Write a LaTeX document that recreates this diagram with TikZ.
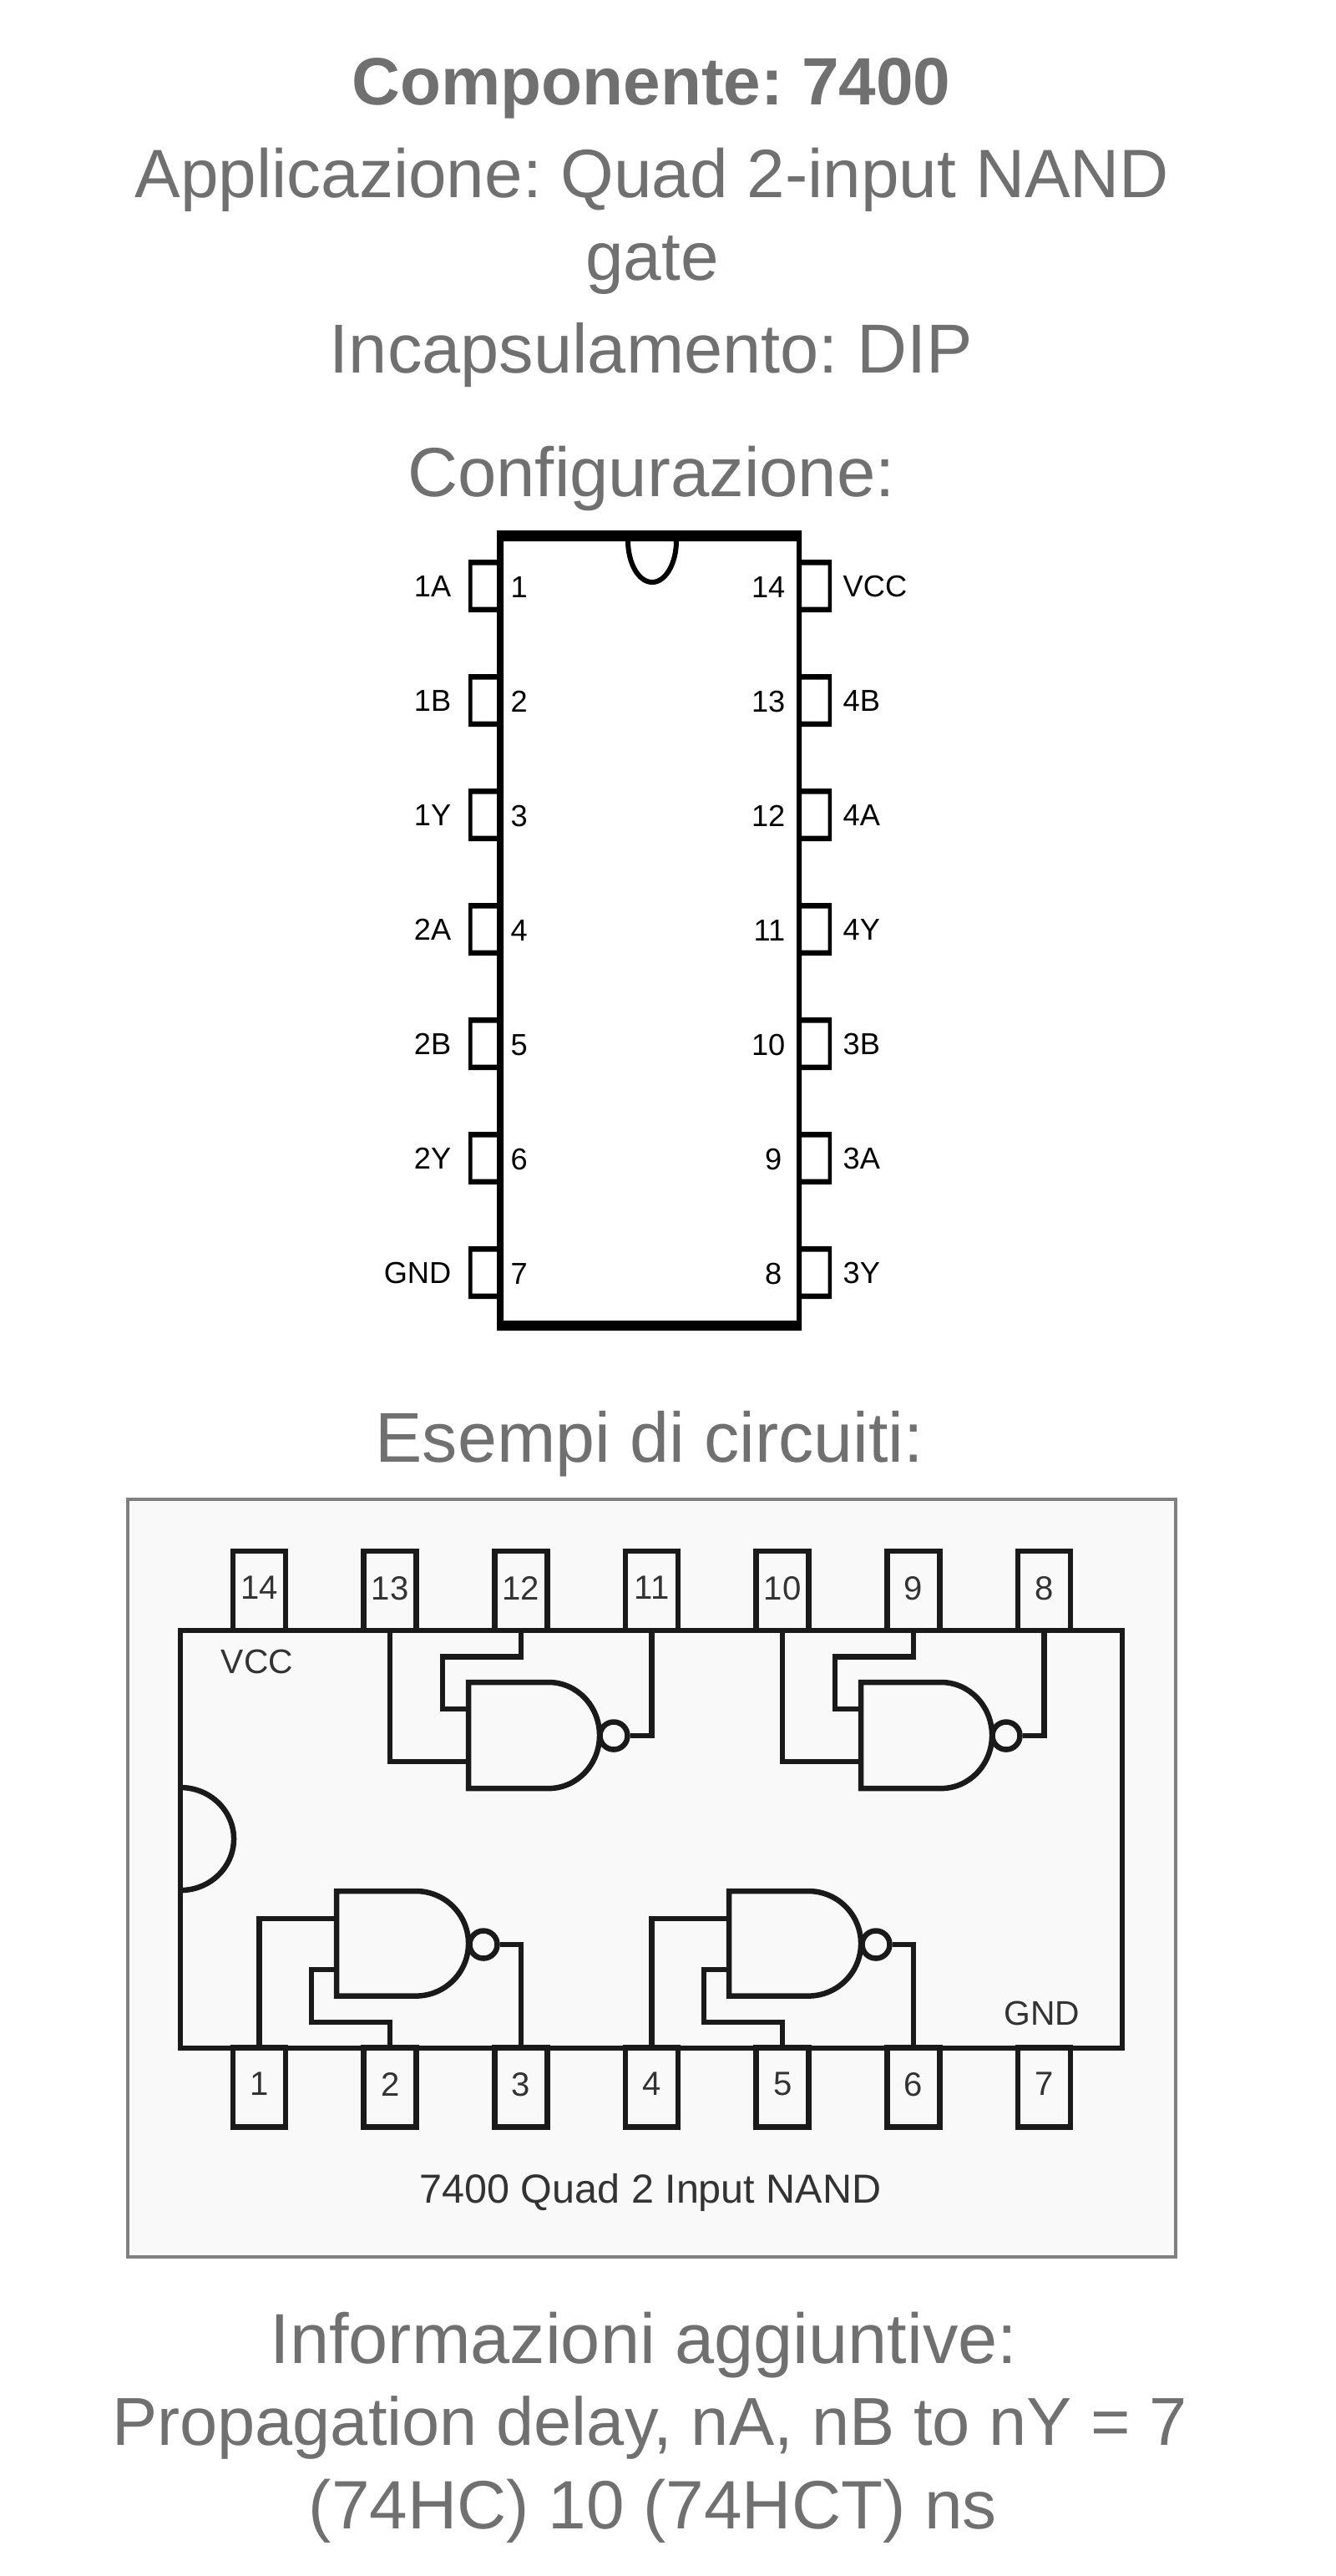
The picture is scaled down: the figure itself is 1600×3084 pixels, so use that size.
\documentclass[tikz,border=0pt]{standalone}
\usepackage{fontspec}
\setmainfont{Liberation Sans}
\frenchspacing
\definecolor{txtgrey}{HTML}{707070}
\definecolor{boxfill}{HTML}{F9F9F9}
\definecolor{boxline}{HTML}{808080}
\definecolor{wirecol}{HTML}{1A1A1A}
\definecolor{inktext}{HTML}{333333}
\tikzset{
    headline/.style={font=\fontsize{23.3}{28}\selectfont, text=txtgrey, anchor=base},
    pinlabel/.style={font=\fontsize{10.3}{12}\selectfont, text=black, anchor=base, inner sep=0pt},
    pinbox/.style={draw=wirecol, line width=.065cm, minimum width=.63cm, minimum height=.95cm,
        inner sep=0pt, font=\fontsize{11.4}{13}\selectfont, text=inktext},
    wire/.style={draw=wirecol, line width=.065cm},
    bubble/.style={circle, draw=wirecol, line width=.065cm, minimum size=.33cm, inner sep=0pt},
    chiplabel/.style={font=\fontsize{11.6}{14}\selectfont, text=inktext, anchor=base}
}

\begin{document}
\begin{tikzpicture}[x=.01cm, y=-.01cm]
        \useasboundingbox (0,0) rectangle (1600,3084);

        % Testi in alto
        \node[headline, font=\fontsize{22.8}{28}\bfseries] (title) at (780,125) {Componente: 7400};
        \node[headline] (appl) at (781,236) {Applicazione: Quad 2-input NAND};
        \node[headline] (gate) at (781,335) {gate};
        \node[headline, font=\fontsize{23.6}{28}\selectfont] (incaps) at (780,446) {Incapsulamento: DIP};
        \node[headline, font=\fontsize{23.7}{28}\selectfont] (config) at (780,594) {Configurazione:};

        % Piedinatura DIP
        \foreach \n/\lab/\m/\rlab/\ex [count=\i from 0, evaluate=\i as \yy using 702+137*\i] in
            {1/1A/14/VCC/941, 2/1B/13/4B/941, 3/1Y/12/4A/941, 4/2A/11/4Y/941,
             5/2B/10/3B/941, 6/2Y/9/3A/937, 7/GND/8/3Y/937}
        {
            \fill[even odd rule] (561,\yy-32) rectangle (597,\yy+31) (565.5,\yy-25.5) rectangle (597,\yy+24.5);
            \fill[even odd rule] (996,\yy-32) rectangle (958,\yy+31) (991.5,\yy-25.5) rectangle (958,\yy+24.5);
            \node[pinlabel, anchor=base east] (ll\n) at (541,\yy+12) {\lab};
            \node[pinlabel, anchor=base west] (nl\n) at (611,\yy+13) {\n};
            \node[pinlabel, anchor=base east] (nr\m) at (\ex,\yy+13) {\m};
            \node[pinlabel, anchor=base west] (lr\m) at (1009,\yy+12) {\rlab};
        }
        \fill[even odd rule] (595,635) rectangle (960,1593) (603,648) rectangle (954,1581);
        \draw[line width=.06cm] (752,647) arc[start angle=180, end angle=360, x radius=.29cm, y radius=.5cm];

        \node[headline, font=\fontsize{24}{28}\selectfont] (esempi) at (778,1750) {Esempi di circuiti:};

        % Riquadro del circuito
        \draw[fill=boxfill, draw=boxline, line width=.04cm] (153,1795) rectangle (1408,2702);

        % Contenitore
        \draw[wire] (216,1952) rectangle (1344,2452);
        \draw[wire] (216,2140) arc[start angle=90, end angle=-90, x radius=.64cm, y radius=.615cm];

        % Piedini
        \foreach \n [count=\i from 0] in {14,13,...,8}
            \node[pinbox, text depth=.07cm] (p\n) at (310.5+156.67*\i,1904.5) {\n};
        \foreach \n [count=\i from 0] in {1,...,7}
            \node[pinbox, text depth=.08cm] (p\n) at (310.5+156.67*\i,2499) {\n};

        % Porte in alto
        \foreach \gx/\pa/\pb/\py in {0/13/12/11, 470/10/9/8}
        {
            \draw[wire] (561+\gx,2014) -- (657+\gx,2014)
                arc[start angle=90, end angle=-90, x radius=.61cm, y radius=.635cm]
                -- (561+\gx,2141) -- cycle;
            \node[bubble] (b\py) at (735+\gx,2078) {};
            \coordinate (in\pa) at (561+\gx,2109);
            \coordinate (in\pb) at (561+\gx,2046);
            \draw[wire] (b\py.east) -| (p\py.south);
            \draw[wire] (p\pa.south) |- (in\pa);
            \draw[wire] (p\pb.south) |- (530+\gx,1983.5) |- (in\pb);
        }

        % Porte in basso
        \foreach \gx/\pa/\pb/\py in {0/1/2/3, 470/4/5/6}
        {
            \draw[wire] (403+\gx,2264) -- (498+\gx,2264)
                arc[start angle=90, end angle=-90, x radius=.63cm, y radius=.6275cm]
                -- (403+\gx,2389.5) -- cycle;
            \node[bubble] (b\py) at (579+\gx,2328) {};
            \coordinate (in\pa) at (403+\gx,2297);
            \coordinate (in\pb) at (403+\gx,2358);
            \draw[wire] (b\py.east) -| (p\py.north);
            \draw[wire] (p\pa.north) |- (in\pa);
            \draw[wire] (p\pb.north) |- (373+\gx,2421) |- (in\pb);
        }

        % Scritte del circuito
        \node[chiplabel] (vcc) at (308,2003) {VCC};
        \node[chiplabel] (gnd) at (1248,2424) {GND};
        \node[chiplabel, font=\fontsize{13.8}{16}\selectfont] (caption) at (779,2637) {7400 Quad 2 Input NAND};

        % Testi in basso
        \node[headline, font=\fontsize{24.1}{28}\selectfont] (info) at (771,2829) {Informazioni aggiuntive:};
        \node[headline, font=\fontsize{23.1}{28}\selectfont] (delay) at (778,2927) {Propagation delay, nA, nB to nY = 7};
        \node[headline] (delayb) at (782,3027) {(74HC) 10 (74HCT) ns};
\end{tikzpicture}
\end{document}
